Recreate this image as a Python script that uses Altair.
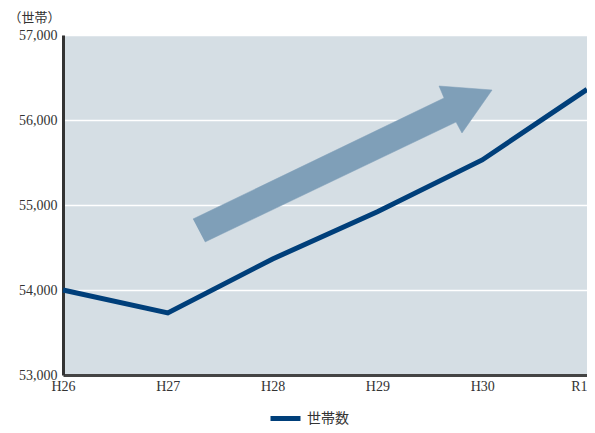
import altair as alt
import pandas as pd

years = ["H26", "H27", "H28", "H29", "H30", "R1"]
households = [54000, 53730, 54365, 54920, 55530, 56360]
series_name = "世帯数"

# decorative arrow polygon (x as category index, y in data units)
arrow_x = [1.24, 3.636, 3.588, 4.094, 3.807, 3.75, 1.355]
arrow_y = [54835, 56259, 56400, 56353, 55847, 55976, 54565]

df = pd.DataFrame({"year": years, "value": households, "series": [series_name] * len(years)})
arrow_df = pd.DataFrame({"x": arrow_x, "y": arrow_y, "o": list(range(len(arrow_x)))})

serif = "Liberation Serif"

yscale = alt.Scale(domain=[53000, 57000], nice=False, zero=False)
yaxis = alt.Axis(title="（世帯）", titleAngle=0, titleAnchor="end", titleAlign="left",
                 titleBaseline="middle",
                 titleX=-55, titleY=-18, titleFont="Noto Sans CJK JP",
                 titleFontWeight="normal", titleFontSize=13, titleColor="#333",
                 values=[53000, 54000, 55000, 56000, 57000], format=",.0f",
                 ticks=False, domainColor="#333", domainWidth=3,
                 labelFont=serif, labelFontSize=14, labelColor="#333",
                 labelPadding=6, gridColor="white", gridWidth=1.5)

arrow = alt.Chart(arrow_df).mark_line(
    fill="#7f9fb8", stroke="#7f9fb8", strokeWidth=0.5, interpolate="linear"
).encode(
    x=alt.X("x:Q", scale=alt.Scale(domain=[0, 5], nice=False, zero=False), axis=None),
    y=alt.Y("y:Q", scale=yscale, axis=yaxis),
    order="o:Q",
)

line = alt.Chart(df).mark_line(strokeWidth=5).encode(
    x=alt.X("year:N", sort=years, scale=alt.Scale(type="point", padding=0),
            axis=alt.Axis(title=None, labelAngle=0, ticks=False, domainColor="#444",
                          domainWidth=3, labelFont=serif, labelFontSize=14,
                          labelColor="#333", labelPadding=4, grid=False,
                          labelAlign=alt.condition("datum.value == 'R1'",
                                                   alt.value("right"), alt.value("center")))),
    y=alt.Y("value:Q", scale=yscale, axis=yaxis),
    color=alt.Color("series:N", scale=alt.Scale(range=["#003f7a"]),
                    legend=alt.Legend(title=None, orient="none", legendX=205, legendY=366,
                                      symbolType="stroke", symbolStrokeWidth=5,
                                      symbolStrokeColor="#003f7a",
                                      symbolSize=900, labelFont="Noto Sans CJK JP",
                                      labelFontSize=14, labelColor="#333", padding=0)),
)

chart = alt.layer(arrow, line).resolve_scale(x="independent").properties(
    width=524, height=340,
    autosize=alt.AutoSizeParams(type="none"),
    padding={"left": 55, "top": 27, "right": 0, "bottom": 50},
    background="white",
).configure_view(fill="#d5dee4", strokeWidth=0)

chart.save("out.html", embed_options={"renderer": "svg", "actions": False})
